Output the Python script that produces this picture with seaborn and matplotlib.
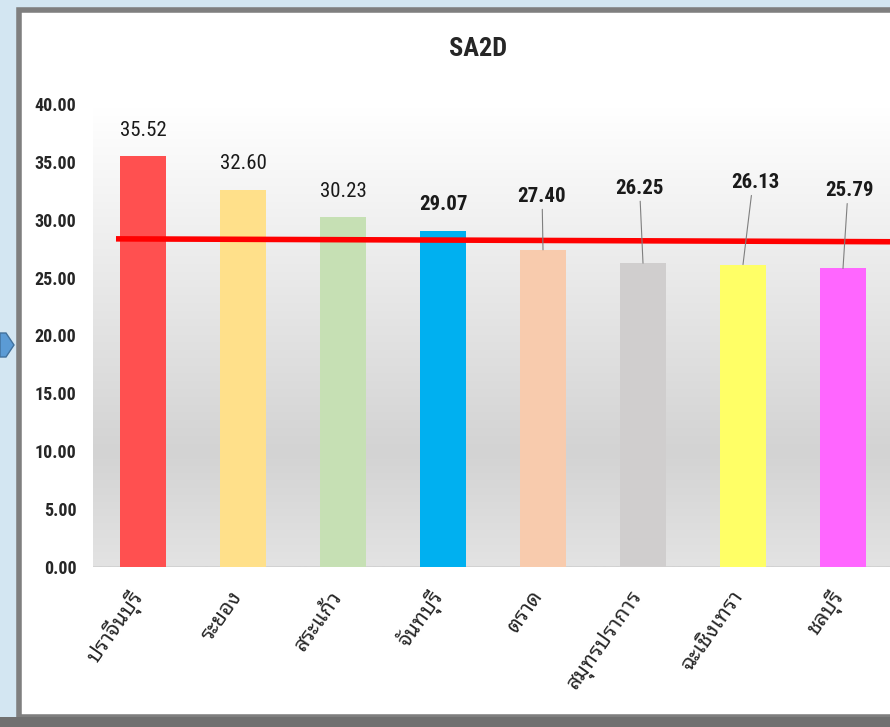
import numpy as np
import pandas as pd
import seaborn as sns
from matplotlib import pyplot as plt
from matplotlib import transforms
from matplotlib.colors import LinearSegmentedColormap
from matplotlib.patches import Rectangle, Polygon

# data
provinces = ["ปราจีนบุรี", "ระยอง", "สระแก้ว", "จันทบุรี", "ตราด", "สมุทรปราการ", "ฉะเชิงเทรา", "ชลบุรี"]
scores = [35.52, 32.60, 30.23, 29.07, 27.40, 26.25, 26.13, 25.79]
bar_colors = ["#ff5050", "#ffe08a", "#c6e0b4", "#00b0f0", "#f8cbad", "#d0cece", "#ffff66", "#ff66ff"]
target_line = [28.35, 28.10]  # red reference line, left end / right end

# label positions for the values that sit above the red line (value units)
label_y = [35.52, 32.60, 30.23, 29.07, 31.2, 31.9, 32.4, 31.7]
label_dx = [0, 0, 0, 0, -0.01, -0.04, 0.12, 0.06]

sns.set_theme(style="white")
plt.rcParams["font.family"] = ["Roboto Condensed", "Noto Sans Thai Looped", "DejaVu Sans"]

df = pd.DataFrame({"province": provinces, "score": scores})

fig = plt.figure(figsize=(8.9, 7.27), dpi=100)
fig.patch.set_facecolor("#d3e6f2")

# white slide panel with a grey frame
fig.add_artist(Rectangle((19 / 890, 10 / 727), 1, 707 / 727, transform=fig.transFigure,
                         facecolor="white", edgecolor="#7f7f7f", lw=4, zorder=-5))
fig.add_artist(Rectangle((0, 0), 1, 10 / 727, transform=fig.transFigure,
                         facecolor="#707070", edgecolor="none", zorder=-4))
fig.add_artist(Polygon([(0, 370 / 727), (6 / 890, 370 / 727), (14 / 890, 382 / 727),
                        (6 / 890, 394 / 727), (0, 394 / 727)], closed=True,
                       transform=fig.transFigure, facecolor="#5b9bd5",
                       edgecolor="#41719c", zorder=-4))

ax = fig.add_axes([93 / 890, (727 - 567) / 727, 797 / 890, 463 / 727])
ax.set_facecolor("none")

sns.barplot(data=df, x="province", y="score", hue="province", palette=bar_colors,
            legend=False, width=0.46, saturation=1, linewidth=0, ax=ax, zorder=3)

ax.set_xlim(-0.5, 7.47)
ax.set_ylim(0, 40)

# plot area gradient: white at the top, grey lower down
bg = LinearSegmentedColormap.from_list("bg", [(0, "#ffffff"), (0.75, "#d3d3d3"), (1, "#e3e3e3")])
grad = np.linspace(0, 1, 256).reshape(-1, 1)
ax.imshow(grad, extent=(-0.5, 7.47, 0, 39.7), aspect="auto", cmap=bg, origin="upper", zorder=0)
ax.axhline(0, color="#d0d0d0", lw=2, zorder=1)

# red reference line
ax.plot([-0.27, 7.47], target_line, color="#ff0000", lw=4, zorder=4, solid_capstyle="butt")

# value labels
for i, (v, ly, dx) in enumerate(zip(scores, label_y, label_dx)):
    if ly > v:
        ax.text(i + dx, ly, f"{v:.2f}", ha="center", va="bottom", fontsize=15,
                fontweight="bold", color="#1a1a1a", zorder=5)
        ax.plot([i + dx * 0.7, i], [ly - 0.3, v], color="#7f7f7f", lw=0.8, zorder=5)
    else:
        ax.text(i, v + 1.4, f"{v:.2f}", ha="center", va="bottom", fontsize=15,
                fontweight="bold" if i == 3 else "normal", color="#1a1a1a", zorder=5)

ax.set_yticks(np.arange(0, 41, 5))
ax.set_yticklabels([f"{t:.2f}" for t in np.arange(0, 41, 5)], fontsize=13, fontweight="bold")
ax.set_xlabel("")
ax.set_ylabel("")
ax.set_xticks(range(len(provinces)))
ax.set_xticklabels(provinces, rotation=55, ha="right", rotation_mode="anchor",
                   fontsize=15.5, fontweight="bold")
ax.tick_params(axis="x", pad=14, length=0)
ax.tick_params(axis="y", pad=12, length=0)
shift = transforms.ScaledTranslation(-14 / 100, 0, fig.dpi_scale_trans)
for lab in ax.get_xticklabels():
    lab.set_transform(lab.get_transform() + shift)
for s in ax.spines.values():
    s.set_visible(False)

fig.text(0.537, 0.933, "SA2D", ha="center", va="center", fontsize=19, fontweight="bold")

fig.savefig("out.png", dpi=100)
